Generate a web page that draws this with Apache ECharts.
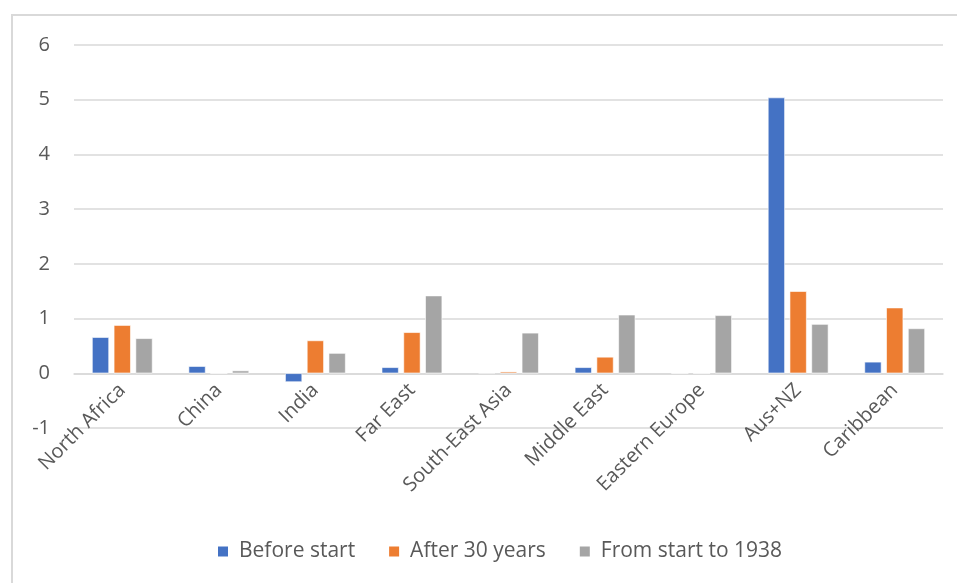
<!DOCTYPE html>
<html>
<head>
<meta charset="utf-8">
<script src="https://cdn.jsdelivr.net/npm/echarts@6/dist/echarts.min.js"></script>
<style>
  html, body { margin: 0; padding: 0; background: #fff; }
  #frame { position: absolute; left: 11px; top: 14px; width: 960px; height: 600px; border-left: 2px solid #d9d9d9; border-top: 2px solid #d9d9d9; }
  #chart { position: absolute; left: 0; top: 0; width: 957px; height: 583px; }
</style>
</head>
<body>
<div id="frame"></div>
<div id="chart"></div>
<script>
const regions = ['North Africa', 'China', 'India', 'Far East', 'South-East Asia', 'Middle East', 'Eastern Europe', 'Aus+NZ', 'Caribbean'];
const beforeStart = [0.66, 0.13, -0.16, 0.11, 0.01, 0.11, 0, 5.04, 0.21];
const after30Years = [0.88, 0, 0.60, 0.75, 0.03, 0.30, 0, 1.50, 1.20];
const startTo1938 = [0.64, 0.05, 0.37, 1.42, 0.74, 1.07, 1.06, 0.90, 0.82];
const yTicks = { min: -1, max: 6, interval: 1 };

const font = '"Open Sans", "Noto Sans", sans-serif';
const chart = echarts.init(document.getElementById('chart'), null, { renderer: 'canvas' });

function barSeries(name, data, color) {
  return {
    name, type: 'bar', data,
    barWidth: 17, barGap: '28%',
    itemStyle: { color, borderColor: '#ffffff', borderWidth: 0.6 },
    emphasis: { disabled: true }
  };
}

// Category labels sit just under the zero line, one unit above the plot bottom
const zeroOffset = 428 - 373;

chart.setOption({
  animation: false,
  backgroundColor: 'transparent',
  grid: { left: 74, right: 14, top: 45, bottom: 155, containLabel: false },
  legend: {
    bottom: 16, left: 211,
    itemWidth: 12, itemHeight: 12, itemGap: 32,
    icon: 'rect',
    textStyle: { fontFamily: font, fontSize: 21, color: '#595959', padding: [0, 0, 0, 5] },
    data: ['Before start', 'After 30 years', 'From start to 1938']
  },
  xAxis: {
    type: 'category',
    data: regions,
    axisLine: { onZero: true, lineStyle: { color: '#d9d9d9', width: 1.5 } },
    axisTick: { show: false },
    axisLabel: { rotate: 45, interval: 0, margin: 14 - zeroOffset, fontFamily: font, fontSize: 20, color: '#595959' }
  },
  yAxis: {
    type: 'value',
    min: yTicks.min, max: yTicks.max, interval: yTicks.interval,
    axisLine: { show: false },
    axisTick: { show: false },
    splitLine: { lineStyle: { color: '#d9d9d9', width: 1.5 } },
    axisLabel: { margin: 24, fontFamily: font, fontSize: 20, color: '#595959' }
  },
  series: [
    barSeries('Before start', beforeStart, '#4472C4'),
    barSeries('After 30 years', after30Years, '#ED7D31'),
    barSeries('From start to 1938', startTo1938, '#A5A5A5')
  ]
});
</script>
</body>
</html>
